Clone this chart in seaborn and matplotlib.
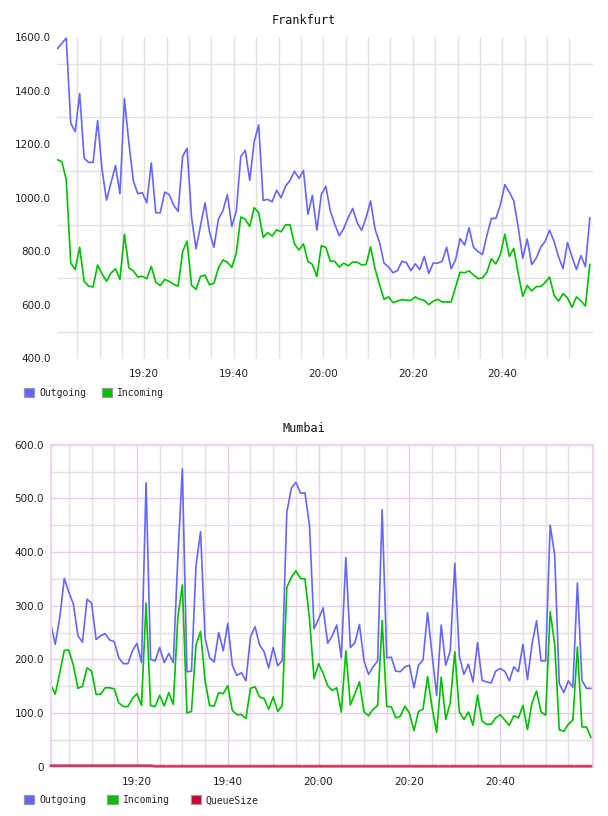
import numpy as np
import pandas as pd
import matplotlib
matplotlib.use("Agg")
import matplotlib.pyplot as plt
import matplotlib.dates as mdates
from matplotlib.patches import Patch
from matplotlib.ticker import FixedLocator, FixedFormatter
import seaborn as sns

sns.set_style("white")
plt.rcParams['font.family'] = ['DejaVu Sans']

# ---------------- data ----------------
series_names = ["Outgoing", "Incoming", "QueueSize"]

fra_start = "2024-01-01 19:00:34"
fra_end = "2024-01-01 21:00:20"
mum_start = "2024-01-01 19:01:00"
mum_end = "2024-01-01 21:00:30"

x_tick_labels = ["19:20", "19:40", "20:00", "20:20", "20:40"]

fra_out = [1556, 1576, 1596, 1278, 1247, 1389, 1148, 1132, 1132, 1288,
           1105, 991, 1056, 1120, 1015, 1370, 1204, 1062, 1015, 1019,
           981, 1130, 944, 944, 1021, 1012, 972, 949, 1154, 1185,
           926, 809, 895, 981, 873, 815, 920, 951, 1012, 893,
           951, 1154, 1177, 1065, 1210, 1272, 990, 994, 985, 1028,
           1000, 1043, 1065, 1099, 1072, 1102, 938, 1009, 879, 1012,
           1043, 951, 901, 858, 885, 926, 960, 907, 878, 926,
           988, 883, 833, 756, 742, 720, 728, 763, 758, 728,
           753, 732, 781, 718, 756, 756, 763, 815, 735, 769,
           848, 823, 888, 815, 799, 788, 860, 923, 923, 973,
           1049, 1021, 988, 889, 774, 846, 751, 774, 815, 837,
           879, 837, 780, 735, 833, 780, 732, 784, 743, 926]

fra_in = [1142, 1135, 1068, 756, 732, 815, 688, 670, 667, 749,
          716, 688, 719, 735, 695, 864, 738, 727, 704, 707,
          698, 744, 685, 672, 695, 688, 677, 670, 799, 838,
          673, 658, 707, 711, 675, 681, 738, 768, 759, 740,
          794, 928, 920, 893, 963, 944, 852, 870, 857, 880,
          873, 899, 899, 827, 805, 828, 762, 751, 706, 821,
          815, 763, 763, 741, 756, 746, 760, 760, 749, 751,
          817, 735, 675, 621, 630, 609, 614, 620, 617, 617,
          630, 621, 617, 601, 614, 621, 611, 611, 611, 667,
          722, 720, 727, 712, 698, 701, 722, 772, 753, 788,
          864, 781, 811, 716, 632, 673, 652, 668, 669, 683,
          704, 636, 614, 642, 626, 591, 630, 615, 596, 752]

mum_out = [267, 228, 278, 351, 325, 303, 244, 232, 312, 305,
           237, 244, 248, 236, 233, 203, 192, 192, 216, 230,
           194, 529, 200, 197, 222, 194, 211, 194, 390, 555,
           177, 178, 374, 438, 240, 203, 195, 250, 216, 267,
           189, 170, 175, 160, 242, 261, 227, 214, 184, 222,
           188, 198, 474, 519, 530, 510, 510, 449, 257, 275,
           296, 230, 244, 264, 203, 390, 222, 231, 265, 197,
           172, 186, 197, 479, 203, 204, 178, 177, 186, 189,
           147, 189, 199, 287, 209, 133, 264, 189, 216, 379,
           206, 172, 191, 158, 231, 161, 158, 156, 178, 183,
           178, 160, 186, 177, 228, 162, 228, 272, 197, 197,
           450, 394, 155, 138, 160, 148, 342, 161, 146, 146]

mum_in = [153, 135, 175, 217, 217, 189, 146, 150, 184, 178,
          135, 135, 147, 147, 145, 119, 112, 112, 127, 136,
          114, 305, 114, 112, 133, 113, 138, 116, 278, 339,
          100, 103, 227, 252, 160, 114, 113, 138, 136, 151,
          105, 97, 97, 90, 146, 149, 130, 127, 107, 130,
          103, 114, 334, 353, 365, 351, 350, 275, 164, 192,
          174, 151, 142, 147, 102, 216, 115, 136, 158, 102,
          95, 107, 114, 272, 112, 112, 91, 94, 113, 100,
          67, 103, 107, 168, 110, 64, 167, 88, 119, 214,
          102, 88, 102, 77, 133, 85, 79, 79, 91, 97,
          87, 77, 95, 91, 114, 69, 119, 141, 102, 96,
          289, 228, 69, 66, 79, 87, 223, 74, 74, 54]

mum_queue = [2, 2, 2, 2, 2, 2, 2, 2, 2, 2,
             2, 2, 2, 2, 2, 2, 2, 2, 2, 2,
             2, 2, 2, 1, 1, 1, 1, 1, 1, 1,
             1, 1, 1, 1, 1, 1, 1, 1, 1, 1,
             1, 1, 1, 1, 1, 1, 1, 1, 1, 1,
             1, 1, 1, 1, 1, 1, 1, 1, 1, 1,
             1, 1, 1, 1, 1, 1, 1, 1, 1, 1,
             1, 1, 1, 1, 1, 1, 1, 1, 1, 1,
             1, 1, 1, 1, 1, 1, 1, 1, 1, 1,
             1, 1, 1, 1, 1, 1, 1, 1, 1, 1,
             1, 1, 1, 1, 1, 1, 1, 1, 1, 1,
             1, 1, 1, 1, 1, 1, 1, 1, 1, 1]

fra_yticks = [400, 600, 800, 1000, 1200, 1400, 1600]
mum_yticks = [0, 100, 200, 300, 400, 500, 600]
mum_ylabels = ["0", "100.0", "200.0", "300.0", "400.0", "500.0", "600.0"]

# ---------------- style ----------------
BLUE = "#6666ff"
GREEN = "#00c000"
RED = "#cc0033"
palette = {"Outgoing": BLUE, "Incoming": GREEN, "QueueSize": RED}
GRID_GRAY = "#e2e2e2"
GRID_PURPLE = "#e8cce8"
MONO = "DejaVu Sans Mono"

fra_times = pd.date_range(fra_start, periods=len(fra_out), freq="min")
mum_times = pd.date_range(mum_start, periods=len(mum_out), freq="min")

fra_df = pd.DataFrame({
    "time": list(fra_times) * 2,
    "value": fra_out + fra_in,
    "series": ["Outgoing"] * len(fra_out) + ["Incoming"] * len(fra_in),
})
mum_df = pd.DataFrame({
    "time": list(mum_times) * 3,
    "value": mum_out + mum_in + mum_queue,
    "series": (["Outgoing"] * len(mum_out) + ["Incoming"] * len(mum_in)
               + ["QueueSize"] * len(mum_queue)),
})

W, H = 608, 816
fig = plt.figure(figsize=(W / 100, H / 100), dpi=100)
ax1 = fig.add_axes([57.3 / W, 1 - 358.5 / H, 536 / W, 321.5 / H])
ax2 = fig.add_axes([50.7 / W, 1 - 766.7 / H, 542.6 / W, 322 / H])

sns.lineplot(data=fra_df, x="time", y="value", hue="series", palette=palette,
             ax=ax1, legend=False, linewidth=1.2, estimator=None)
sns.lineplot(data=mum_df[mum_df.series != "QueueSize"], x="time", y="value",
             hue="series", palette=palette, ax=ax2, legend=False,
             linewidth=1.2, estimator=None)
sns.lineplot(data=mum_df[mum_df.series == "QueueSize"], x="time", y="value",
             hue="series", palette=palette, ax=ax2, legend=False,
             linewidth=2.0, alpha=0.75, estimator=None, clip_on=False,
             zorder=4)

# tick positions: labelled every 20 min, grid every 5 min (up to 20:55)
major_times = [pd.Timestamp(f"2024-01-01 {t}") for t in x_tick_labels]
minor_times = pd.date_range("2024-01-01 19:05", "2024-01-01 20:55", freq="5min")
major_num = [mdates.date2num(t) for t in major_times]
minor_num = [mdates.date2num(t) for t in minor_times]

# ---- Frankfurt axes ----
ax1.set_xlim(pd.Timestamp(fra_start), pd.Timestamp(fra_end))
ax1.set_ylim(400, 1600)
ax1.yaxis.set_major_locator(FixedLocator(fra_yticks))
ax1.yaxis.set_major_formatter(FixedFormatter([f"{v:.1f}" for v in fra_yticks]))
ax1.yaxis.set_minor_locator(FixedLocator([500, 700, 900, 1100, 1300, 1500]))
ax1.xaxis.set_major_locator(FixedLocator(major_num))
ax1.xaxis.set_major_formatter(FixedFormatter(x_tick_labels))
ax1.xaxis.set_minor_locator(FixedLocator(minor_num))
ax1.grid(False)
ax1.yaxis.grid(True, which="minor", color=GRID_GRAY, linewidth=1)
ax1.xaxis.grid(True, which="both", color=GRID_GRAY, linewidth=1)
for s in ax1.spines.values():
    s.set_visible(False)

# ---- Mumbai axes ----
ax2.set_xlim(pd.Timestamp(mum_start), pd.Timestamp(mum_end))
ax2.set_ylim(0, 600)
ax2.yaxis.set_major_locator(FixedLocator(mum_yticks))
ax2.yaxis.set_major_formatter(FixedFormatter(mum_ylabels))
ax2.yaxis.set_minor_locator(FixedLocator([50, 150, 250, 350, 450, 550]))
ax2.xaxis.set_major_locator(FixedLocator(major_num))
ax2.xaxis.set_major_formatter(FixedFormatter(x_tick_labels))
ax2.xaxis.set_minor_locator(FixedLocator(minor_num))
ax2.grid(False)
ax2.grid(True, which="minor", color=GRID_GRAY, linewidth=1)
ax2.grid(True, which="major", color=GRID_PURPLE, linewidth=1)
for s in ax2.spines.values():
    s.set_visible(True)
    s.set_color("#ecd8ec")
    s.set_linewidth(1.6)

for ax in (ax1, ax2):
    ax.set_axisbelow(True)
    ax.set_xlabel("")
    ax.set_ylabel("")
    ax.tick_params(which="both", length=0)
    ax.tick_params(axis="y", labelsize=7.5, pad=4.8, labelcolor="#222222")
    ax.tick_params(axis="x", labelsize=7.5, pad=7.5, labelcolor="#222222")

# ---- titles ----
fig.text(0.5, 1 - 20.7 / H, "Frankfurt", ha="center", va="center",
         family=MONO, fontsize=8.5, color="#111111")
fig.text(0.5, 1 - 429 / H, "Mumbai", ha="center", va="center",
         family=MONO, fontsize=8.5, color="#111111")

# ---- legends ----
def handles(names):
    return [Patch(facecolor=palette[n], edgecolor="#999999", linewidth=0.9)
            for n in names]

fig.legend(handles(series_names[:2]), series_names[:2], loc="center left",
           bbox_to_anchor=(24 / W, 1 - 392.7 / H), ncol=2, frameon=False,
           borderpad=0, borderaxespad=0, handlelength=1.05, handleheight=1.05,
           handletextpad=0.5, columnspacing=1.6,
           prop={"family": MONO, "size": 7})
fig.legend(handles(series_names), series_names, loc="center left",
           bbox_to_anchor=(24 / W, 1 - 800.3 / H), ncol=3, frameon=False,
           borderpad=0, borderaxespad=0, handlelength=1.05, handleheight=1.05,
           handletextpad=0.5, columnspacing=2.2,
           prop={"family": MONO, "size": 7})

fig.savefig("out.png", dpi=100)
